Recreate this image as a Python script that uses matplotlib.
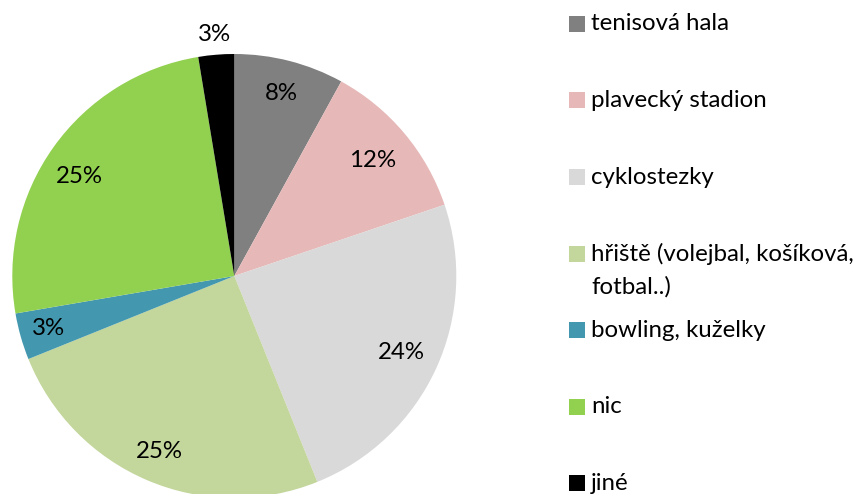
import matplotlib
matplotlib.use("Agg")
import matplotlib.pyplot as plt
import numpy as np
from matplotlib.patches import Rectangle

categories = ["tenisová hala", "plavecký stadion", "cyklostezky",
              "hřiště (volejbal, košíková,\nfotbal..)", "bowling, kuželky", "nic", "jiné"]
values = [8.0, 11.8, 24.1, 25.0, 3.4, 25.1, 2.6]
colors = ["#808080", "#E6B9B8", "#D9D9D9", "#C3D69B", "#4398B0", "#92D050", "#000000"]
label_dist = [0.85, 0.81, 0.83, 0.86, 0.87, 0.83, 1.09]
label_shift = [0, 0, 0, 0, 0, -2.8, 0]  # degrees, fine placement tweak

plt.rcParams['font.family'] = ['Lato', 'DejaVu Sans']
W, H = 861, 494
fig = plt.figure(figsize=(W / 100, H / 100), dpi=100)

cx, cy, R = 234.3, 276.0, 222.0
ax = fig.add_axes([(cx - R) / W, (H - cy - R) / H, 2 * R / W, 2 * R / H])
wedges, _ = ax.pie(values, colors=colors, startangle=90, counterclock=False,
                   radius=1.0, wedgeprops=dict(linewidth=0))
ax.set_xlim(-1, 1)
ax.set_ylim(-1, 1)
ax.set_aspect('auto')
ax.axis('off')

total = sum(values)
cum = 0.0
for v, d, s in zip(values, label_dist, label_shift):
    mid = cum + v / 2
    cum += v
    ang = np.deg2rad(90 - 360 * mid / total - s)
    ax.text(d * np.cos(ang), d * np.sin(ang), f"{round(100 * v / total):.0f}%",
            ha='center', va='center', fontsize=17.3, color='black', clip_on=False)

# legend drawn manually
lax = fig.add_axes([0, 0, 1, 1])
lax.set_xlim(0, W)
lax.set_ylim(H, 0)
lax.axis('off')
y0, dy = 24.0, 76.5
for i, (lab, c) in enumerate(zip(categories, colors)):
    y = y0 + i * dy
    lax.add_patch(Rectangle((569, y - 8), 16, 16, facecolor=c, edgecolor='none'))
    for j, line in enumerate(lab.split("\n")):
        lax.text(591, y + j * 33, line, ha='left', va='center', fontsize=17.3, color='black')

fig.savefig("out.png", dpi=100)
